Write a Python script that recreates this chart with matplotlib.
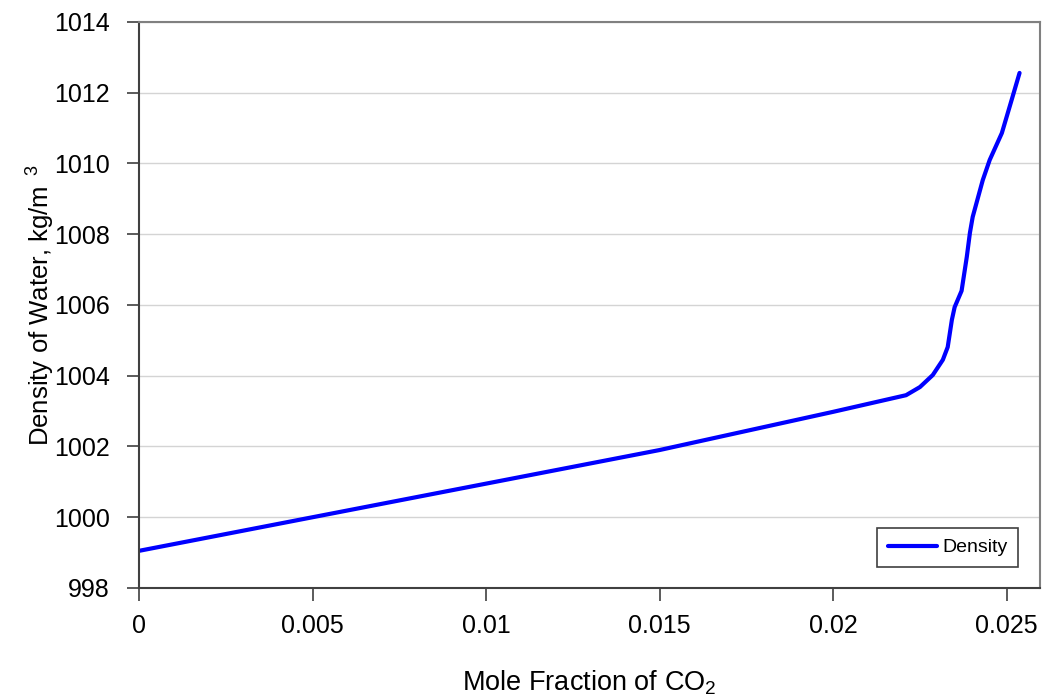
import numpy as np
import matplotlib.pyplot as plt

plt.rcParams['font.family'] = ['Liberation Sans', 'DejaVu Sans']
plt.rcParams['mathtext.fontset'] = 'custom'
plt.rcParams['mathtext.rm'] = 'Liberation Sans'
plt.rcParams['mathtext.it'] = 'Liberation Sans'

# mole fraction of CO2 vs density of water (kg/m3)
mole_fraction = [0.0, 0.005, 0.010, 0.015, 0.020, 0.0221, 0.0225, 0.02287,
                 0.02316, 0.0233, 0.02342, 0.0235, 0.0237, 0.02385, 0.02394,
                 0.02402, 0.02431, 0.02451, 0.02486, 0.02514, 0.02537]
density = [999.05, 1000.0, 1000.95, 1001.9, 1002.98, 1003.45, 1003.68, 1004.02,
           1004.45, 1004.81, 1005.58, 1005.94, 1006.4, 1007.36, 1008.04,
           1008.49, 1009.53, 1010.1, 1010.86, 1011.79, 1012.56]

xticks = [0, 0.005, 0.01, 0.015, 0.02, 0.025]
xtick_labels = ["0", "0.005", "0.01", "0.015", "0.02", "0.025"]
yticks = np.arange(998, 1015, 2)

fig = plt.figure(figsize=(10.44, 6.98), dpi=100)
ax = fig.add_axes([0.1331, 0.1576, 0.8631, 0.8109])

ax.plot(mole_fraction, density, color="#0000ff", lw=3, label="Density",
        solid_capstyle="round", solid_joinstyle="round")

ax.set_xlim(0, 0.02596)
ax.set_ylim(998, 1014)
ax.set_xticks(xticks)
ax.set_xticklabels(xtick_labels)
ax.set_yticks(yticks)
ax.grid(axis="y", color="#d4d4d4", linewidth=1)
ax.set_axisbelow(True)

ax.tick_params(axis="both", direction="out", length=9, width=1.2,
               color="#404040", labelsize=18)
ax.tick_params(axis="x", pad=10)
ax.tick_params(axis="y", pad=12)
for side in ["left", "bottom"]:
    ax.spines[side].set_color("#404040")
    ax.spines[side].set_linewidth(1.5)
for side in ["top", "right"]:
    ax.spines[side].set_color("#808080")
    ax.spines[side].set_linewidth(1.5)

ax.set_xlabel("Mole Fraction of CO$_2$", fontsize=19.5, labelpad=22)
ax.set_ylabel("Density of Water, kg/m$^{\\ \\ 3}$", fontsize=18.5, labelpad=-2)

leg = ax.legend(loc="lower right", bbox_to_anchor=(0.976, 0.037),
                borderaxespad=0, fontsize=14, fancybox=False,
                handlelength=2.5, handletextpad=0.3, borderpad=0.55,
                framealpha=1)
leg.get_frame().set_edgecolor("#404040")
leg.get_frame().set_linewidth(1.2)

fig.savefig("out.png", dpi=100)
